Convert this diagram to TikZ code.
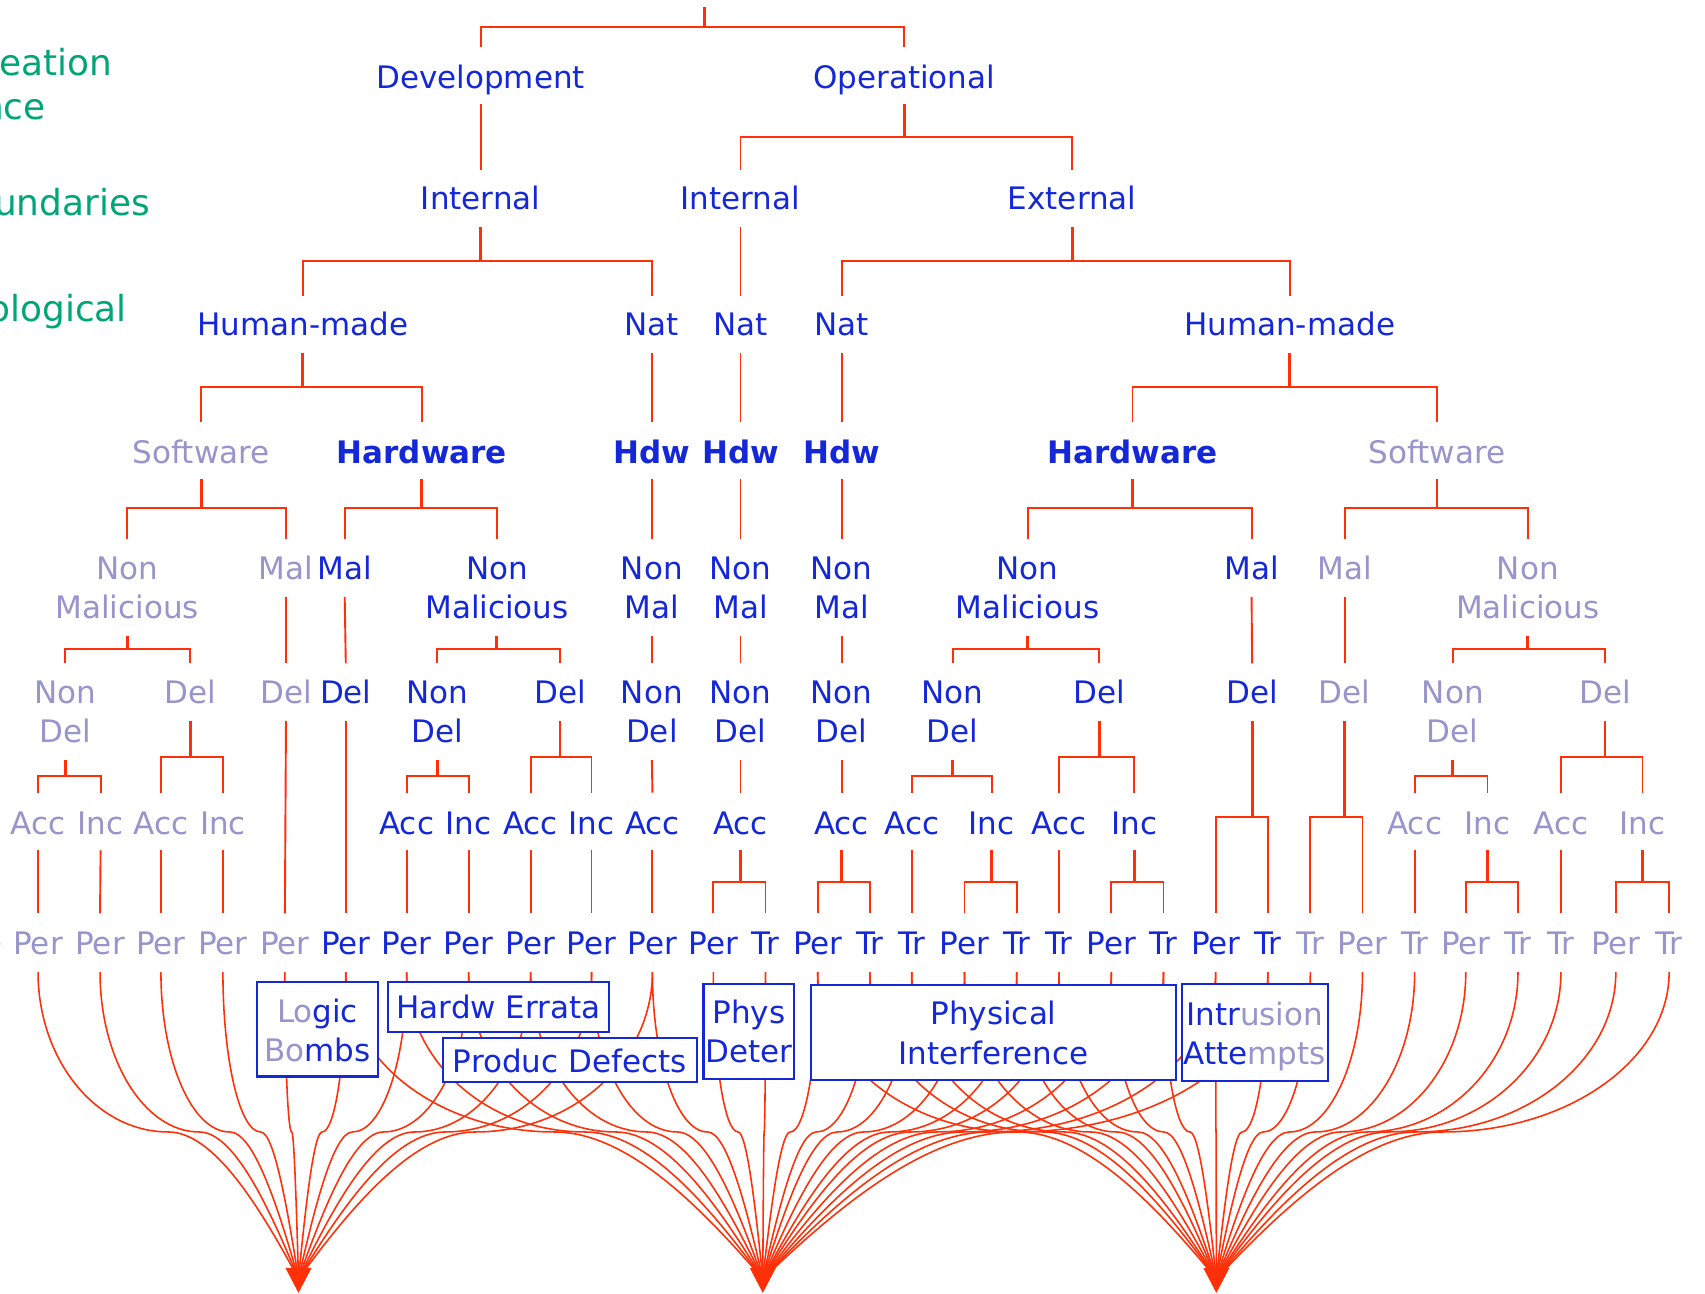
\documentclass[tikz,border=0pt]{standalone}
\usepackage{fontspec}
\setmainfont{DejaVu Sans}
\usetikzlibrary{calc}
\definecolor{bT}{RGB}{20,40,215}
\definecolor{lT}{RGB}{152,148,204}
\definecolor{gT}{RGB}{0,166,120}
\definecolor{rd}{RGB}{255,48,8}
\newcommand\fsz{\fontsize{28.5}{36}\selectfont}
\newcommand\gsz{\fontsize{33}{40}\selectfont}
\newcommand\twoln[2]{\begin{tabular}[t]{@{}c@{}}#1\\#2\end{tabular}}
% bracket: parent, child1, child2, y stem top, y bar, y drop end
\newcommand\tbrack[6]{%
  \draw[lnS] (#1 |- 0,#4) -- (#1 |- 0,#5);
  \draw[lnB] (#2 |- 0,#6) -- (#2 |- 0,#5) -- (#3 |- 0,#5) -- (#3 |- 0,#6);}
% straight link: parent, child, y top, y bottom
\newcommand\tlink[4]{\draw[lnB] (#1 |- 0,#3) -- (#2 |- 0,#4);}
% fan curve from leaf to target
\newcommand\fcurve[2]{%
  \path (#1); \pgfgetlastxy{\fxa}{\fya}%
  \path (#2); \pgfgetlastxy{\fxt}{\fyt}%
  \pgfmathsetmacro\fx{\fxa}%
  \pgfmathsetmacro\ft{\fxt}%
  \pgfmathsetmacro\fxm{(\fx+\ft)/2}%
  \pgfmathsetmacro\fca{\fxm+0.552*(\fx-\fxm)}%
  \pgfmathsetmacro\fcb{\fxm+0.35*(\ft-\fxm)}%
  \pgfmathsetmacro\fcc{\ft-0.3*(\ft-\fxm)}%
  \draw[lnC] (#1 |- 0,894) .. controls (\fx,975) and (\fca,1041) .. (\fxm,1041)
     .. controls (\fcb,1041) and (\fcc,1109.5) .. (#2);}
\begin{document}
\begin{tikzpicture}[x=1pt,y=-1pt,
  txtB/.style={anchor=base, inner sep=0pt, font=\fsz, text=bT},
  txtL/.style={txtB, text=lT},
  txtH/.style={txtB, font=\fsz\bfseries},
  txtG/.style={anchor=base east, inner sep=0pt, font=\gsz, text=gT},
  lnS/.style={draw=rd, line width=2.7pt},
  lnB/.style={draw=rd, line width=1.75pt},
  lnC/.style={draw=rd, line width=1.45pt},
  fbox/.style={draw=bT, line width=1.9pt, fill=white, inner sep=0pt},
  tip/.style={fill=rd}]
\useasboundingbox (0,0) rectangle (1568,1190);
\fill[white] (0,0) rectangle (1568,1190);

% green side labels (cut off at the left edge)
\node[txtG] (g1) at (103.8,69) {eation};
\node[txtG] (g2) at (42.2,109.7) {nce};
\node[txtG] (g3) at (138,198.6) {undaries};
\node[txtG] (g4) at (116.8,295.8) {ological};
\node[txtG] (g5) at (2.5,878) {e};

% level 1-3
\coordinate (root) at (648,6);
\node[txtB] (dev) at (442,81) {Development};
\node[txtB] (op) at (831.5,81) {Operational};
\node[txtB] (i1) at (442,193) {Internal};
\node[txtB] (i2) at (681,193) {Internal};
\node[txtB] (i3) at (986,193) {External};
\node[txtB] (n1) at (278.5,309) {Human-made};
\node[txtB] (n2) at (599.5,309) {Nat};
\node[txtB] (n3) at (681,309) {Nat};
\node[txtB] (n4) at (774,309) {Nat};
\node[txtB] (n5) at (1186,309) {Human-made};
% level 4
\node[txtL] (h1) at (185,426) {Software};
\node[txtH] (h2) at (388,426) {Hardware};
\node[txtH] (h3) at (599.5,426) {Hdw};
\node[txtH] (h4) at (681,426) {Hdw};
\node[txtH] (h5) at (774,426) {Hdw};
\node[txtH] (h6) at (1041.5,426) {Hardware};
\node[txtL] (h7) at (1321.5,426) {Software};
% level 5
\node[txtL] (m1) at (117,533) {\twoln{Non}{Malicious}};
\node[txtL] (m2) at (263,533) {Mal};
\node[txtB] (m3) at (317,533) {Mal};
\node[txtB] (m4) at (457,533) {\twoln{Non}{Malicious}};
\node[txtB] (m5) at (599.5,533) {\twoln{Non}{Mal}};
\node[txtB] (m6) at (681,533) {\twoln{Non}{Mal}};
\node[txtB] (m7) at (774,533) {\twoln{Non}{Mal}};
\node[txtB] (m8) at (945,533) {\twoln{Non}{Malicious}};
\node[txtB] (m9) at (1151,533) {Mal};
\node[txtL] (m10) at (1236.5,533) {Mal};
\node[txtL] (m11) at (1405,533) {\twoln{Non}{Malicious}};
% level 6
\node[txtL] (d1) at (60,647) {\twoln{Non}{Del}};
\node[txtL] (d2) at (175,647) {Del};
\node[txtL] (d3) at (263,647) {Del};
\node[txtB] (d4) at (318,647) {Del};
\node[txtB] (d5) at (402,647) {\twoln{Non}{Del}};
\node[txtB] (d6) at (515,647) {Del};
\node[txtB] (d7) at (599.5,647) {\twoln{Non}{Del}};
\node[txtB] (d8) at (681,647) {\twoln{Non}{Del}};
\node[txtB] (d9) at (774,647) {\twoln{Non}{Del}};
\node[txtB] (d10) at (876,647) {\twoln{Non}{Del}};
\node[txtB] (d11) at (1011,647) {Del};
\node[txtB] (d12) at (1151.5,647) {Del};
\node[txtL] (d13) at (1236.5,647) {Del};
\node[txtL] (d14) at (1336,647) {\twoln{Non}{Del}};
\node[txtL] (d15) at (1476,647) {Del};
% level 7
\node[txtL] (a1) at (35,767) {Acc};
\node[txtL] (a2) at (92.5,767) {Inc};
\node[txtL] (a3) at (148,767) {Acc};
\node[txtL] (a4) at (205,767) {Inc};
\node[txtB] (a5) at (374,767) {Acc};
\node[txtB] (a6) at (431,767) {Inc};
\node[txtB] (a7) at (488,767) {Acc};
\node[txtB] (a8) at (544,767) {Inc};
\node[txtB] (a9) at (600,767) {Acc};
\node[txtB] (a10) at (681,767) {Acc};
\node[txtB] (a11) at (774,767) {Acc};
\node[txtB] (a12) at (838.5,767) {Acc};
\node[txtB] (a13) at (912,767) {Inc};
\node[txtB] (a14) at (974,767) {Acc};
\node[txtB] (a15) at (1043,767) {Inc};
\node[txtL] (a16) at (1301,767) {Acc};
\node[txtL] (a17) at (1368,767) {Inc};
\node[txtL] (a18) at (1435.5,767) {Acc};
\node[txtL] (a19) at (1510.5,767) {Inc};
% level 8 (leaves)
\node[txtL] (p1) at (35,878) {Per};
\node[txtL] (p2) at (92,878) {Per};
\node[txtL] (p3) at (148,878) {Per};
\node[txtL] (p4) at (205,878) {Per};
\node[txtL] (p5) at (262,878) {Per};
\node[txtB] (p6) at (318,878) {Per};
\node[txtB] (p7) at (374,878) {Per};
\node[txtB] (p8) at (431,878) {Per};
\node[txtB] (p9) at (488,878) {Per};
\node[txtB] (p10) at (544,878) {Per};
\node[txtB] (p11) at (600,878) {Per};
\node[txtB] (p12) at (656,878) {Per};
\node[txtB] (p13) at (704,878) {Tr};
\node[txtB] (p14) at (752,878) {Per};
\node[txtB] (p15) at (800,878) {Tr};
\node[txtB] (p16) at (838.5,878) {Tr};
\node[txtB] (p17) at (887,878) {Per};
\node[txtB] (p18) at (935,878) {Tr};
\node[txtB] (p19) at (974,878) {Tr};
\node[txtB] (p20) at (1022,878) {Per};
\node[txtB] (p21) at (1070,878) {Tr};
\node[txtB] (p22) at (1118,878) {Per};
\node[txtB] (p23) at (1166,878) {Tr};
\node[txtL] (p24) at (1205,878) {Tr};
\node[txtL] (p25) at (1253,878) {Per};
\node[txtL] (p26) at (1301,878) {Tr};
\node[txtL] (p27) at (1348,878) {Per};
\node[txtL] (p28) at (1396,878) {Tr};
\node[txtL] (p29) at (1435.5,878) {Tr};
\node[txtL] (p30) at (1486,878) {Per};
\node[txtL] (p31) at (1535,878) {Tr};

% tree connectors
\draw[lnS] (root) -- (root |- 0,24.5);
\draw[lnB] (dev |- 0,43) -- (dev |- 0,24.5) -- (op |- 0,24.5) -- (op |- 0,43);
\tlink{dev}{i1}{96}{156}
\tbrack{op}{i2}{i3}{96}{126}{156}
\tbrack{i1}{n1}{n2}{208.5}{240}{272}
\tlink{i2}{n3}{208.5}{272}
\tbrack{i3}{n4}{n5}{208.5}{240}{272}
\tbrack{n1}{h1}{h2}{325}{356}{388}
\tlink{n2}{h3}{325}{388}
\tlink{n3}{h4}{325}{388}
\tlink{n4}{h5}{325}{388}
\tbrack{n5}{h6}{h7}{325}{356}{388}
\tbrack{h1}{m1}{m2}{440.5}{467}{495.5}
\tbrack{h2}{m3}{m4}{440.5}{467}{495.5}
\tlink{h3}{m5}{440.5}{495.5}
\tlink{h4}{m6}{440.5}{495.5}
\tlink{h5}{m7}{440.5}{495.5}
\tbrack{h6}{m8}{m9}{440.5}{467}{495.5}
\tbrack{h7}{m10}{m11}{440.5}{467}{495.5}
\tbrack{m1}{d1}{d2}{585}{597}{610}
\tlink{m2}{d3}{549}{610}
\tlink{m3}{d4}{549}{610}
\tbrack{m4}{d5}{d6}{585}{597}{610}
\tlink{m5}{d7}{585}{610}
\tlink{m6}{d8}{585}{610}
\tlink{m7}{d9}{585}{610}
\tbrack{m8}{d10}{d11}{585}{597}{610}
\tlink{m9}{d12}{549}{610}
\tlink{m10}{d13}{549}{610}
\tbrack{m11}{d14}{d15}{585}{597}{610}
\tbrack{d1}{a1}{a2}{699}{713.5}{729}
\tbrack{d2}{a3}{a4}{663}{696}{729}
\tlink{d3}{p5}{663}{840}
\tlink{d4}{p6}{663}{840}
\tbrack{d5}{a5}{a6}{699}{713.5}{729}
\tbrack{d6}{a7}{a8}{663}{696}{729}
\tlink{d7}{a9}{699}{729}
\tlink{d8}{a10}{699}{729}
\tlink{d9}{a11}{699}{729}
\tbrack{d10}{a12}{a13}{699}{713.5}{729}
\tbrack{d11}{a14}{a15}{663}{696}{729}
\tbrack{d12}{p22}{p23}{663}{751}{840}
\tbrack{d13}{p24}{p25}{663}{751}{840}
\tbrack{d14}{a16}{a17}{699}{713.5}{729}
\tbrack{d15}{a18}{a19}{663}{696}{729}
\tlink{a1}{p1}{782}{840}
\tlink{a2}{p2}{782}{840}
\tlink{a3}{p3}{782}{840}
\tlink{a4}{p4}{782}{840}
\tlink{a5}{p7}{782}{840}
\tlink{a6}{p8}{782}{840}
\tlink{a7}{p9}{782}{840}
\tlink{a8}{p10}{782}{840}
\tlink{a9}{p11}{782}{840}
\tbrack{a10}{p12}{p13}{782}{811}{840}
\tbrack{a11}{p14}{p15}{782}{811}{840}
\tlink{a12}{p16}{782}{840}
\tbrack{a13}{p17}{p18}{782}{811}{840}
\tlink{a14}{p19}{782}{840}
\tbrack{a15}{p20}{p21}{782}{811}{840}
\tlink{a16}{p26}{782}{840}
\tbrack{a17}{p27}{p28}{782}{811}{840}
\tlink{a18}{p29}{782}{840}
\tbrack{a19}{p30}{p31}{782}{811}{840}

% targets
\coordinate (L) at (274.5,1176);
\coordinate (M) at (701.5,1176);
\coordinate (R) at (1118.6,1176);
\foreach \i in {1,...,11}{\fcurve{p\i}{L}}
\foreach \i in {6,...,23}{\fcurve{p\i}{M}}
\foreach \i in {14,...,31}{\fcurve{p\i}{R}}
\foreach \t in {L,M,R}{
  \fill[tip] (\t) ++(-12,-10) -- ++(24,0) -- (\t |- 0,1189) -- cycle;}

% boxes
\node[fbox, minimum width=112pt, minimum height=87pt] (bLB) at (292,946.5) {};
\node[fbox, minimum width=203pt, minimum height=46pt] (bHE) at (458.5,926) {};
\node[fbox, minimum width=234pt, minimum height=40pt] (bPD) at (524,975) {};
\node[fbox, minimum width=83.5pt, minimum height=87pt] (bPH) at (688.7,948.5) {};
\node[fbox, minimum width=335.5pt, minimum height=87pt] (bPI) at (913.7,949.5) {};
\node[fbox, minimum width=134pt, minimum height=89pt] (bIA) at (1154,949.5) {};
\node[txtB] (tLB) at (292,940.5) {\twoln{\textcolor{lT}{Lo}gic}{\textcolor{lT}{Bo}mbs}};
\node[txtB] (tHE) at (458.5,937) {Hardw Errata};
\node[txtB] (tPD) at (524,986) {Produc Defects};
\node[txtB] (tPH) at (688.7,941) {\twoln{Phys}{Deter}};
\node[txtB] (tPI) at (913.7,942.5) {\twoln{Physical}{Interference}};
\node[txtB] (tIA) at (1154,943) {\twoln{Intr\textcolor{lT}{usion}}{Atte\textcolor{lT}{mpts}}};
\end{tikzpicture}
\end{document}
